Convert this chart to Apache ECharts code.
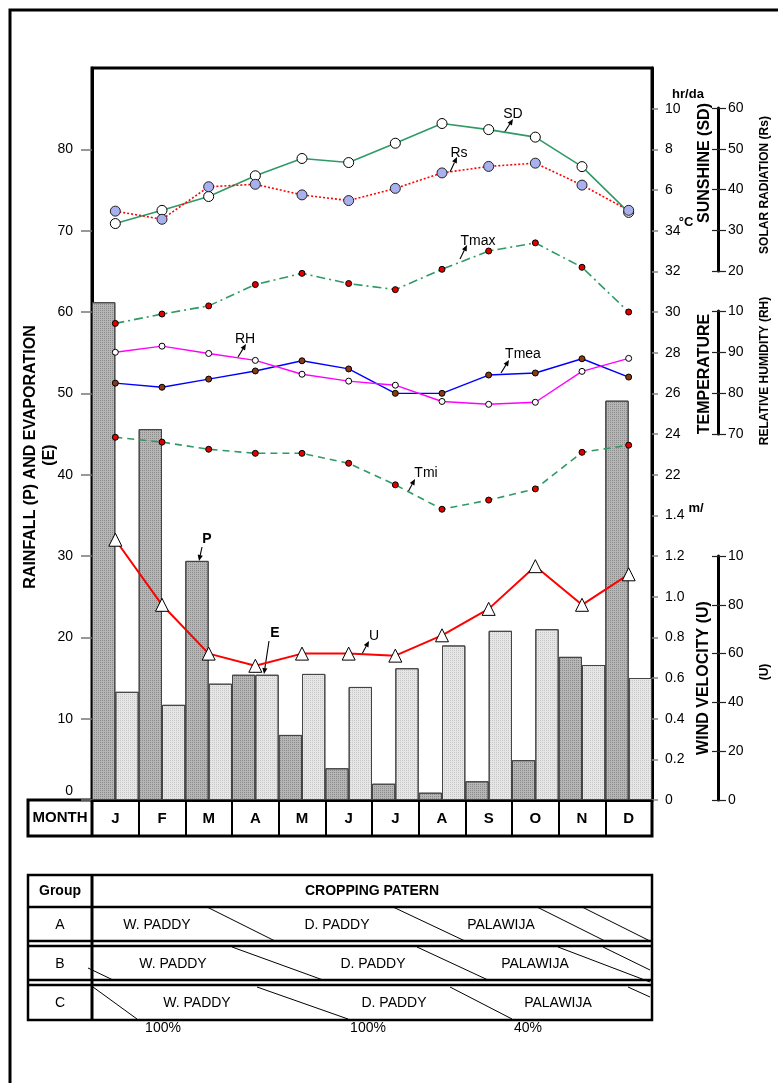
<!DOCTYPE html>
<html><head><meta charset="utf-8">
<script src="https://cdn.jsdelivr.net/npm/echarts@6/dist/echarts.min.js"></script>
<style>html,body{margin:0;padding:0;background:#fff}#c{width:778px;height:1083px}</style>
</head><body><div id="c"></div>
<script>
// ---------- DATA ----------
const months = ['J','F','M','A','M','J','J','A','S','O','N','D'];
const rainfallP = [61.2,45.6,29.4,15.4,8.0,3.9,2.0,0.9,2.3,4.9,17.6,49.1];
const evaporationE = [13.3,11.7,14.3,15.4,15.5,13.9,16.2,19.0,20.8,21.0,16.6,15.0];
const sunshineSD = [4.35,5.0,5.68,6.7,7.55,7.35,8.3,9.27,8.97,8.6,7.15,4.9];
const solarRs = [34.8,32.8,40.8,41.4,38.8,37.4,40.4,44.2,45.8,46.6,41.2,35.0];
const tMax = [29.44,29.9,30.3,31.35,31.9,31.4,31.1,32.1,33.0,33.4,32.2,30.0];
const tMean = [26.5,26.3,26.7,27.1,27.6,27.2,26.0,26.0,26.9,27.0,27.7,26.8];
const humidityRH = [90.1,91.6,89.8,88.1,84.7,83.0,82.0,78.0,77.3,77.8,85.4,88.6];
const tMin = [23.84,23.6,23.25,23.05,23.05,22.56,21.5,20.3,20.75,21.3,23.1,23.45];
const windU = [1.28,0.96,0.72,0.66,0.72,0.72,0.71,0.81,0.94,1.15,0.96,1.11];
const leftTicks = [0,10,20,30,40,50,60,70,80];
const rightTickValues = [0,5,10,15,20,25,30,35,40,45,50,55,60,65,70,75,80,85];
const rightTickLabels = ['0','0.2','0.4','0.6','0.8','1.0','1.2','1.4','22','24','26','28','30','32','34','6','8','10'];
const rsTicks = ['20','30','40','50','60'];
const rhTicks = ['70','80','90','10'];
const uTicks = ['0','20','40','60','80','10'];
const cropGroups = ['A','B','C'];
const cropNames = ['W. PADDY','D. PADDY','PALAWIJA'];
const cropPercents = ['100%','100%','40%'];

// ---------- CHART ----------
const FF = "'Liberation Sans', Arial, sans-serif";
const chart = echarts.init(document.getElementById('c'), null, {renderer:'canvas'});

function hiddenY(min,max){ return {type:'value', gridIndex:0, min:min, max:max, show:false}; }
function barAxes(g, min, max, interval, labels){
  return [
    {type:'value', gridIndex:g, position:'right', min:min, max:max, interval:interval,
     axisLine:{show:true, lineStyle:{color:'#000', width:3}},
     axisTick:{show:true, inside:false, length:8, lineStyle:{color:'#222', width:1.2}},
     axisLabel:{show:true, margin:9, color:'#000', fontFamily:FF, fontSize:14,
       formatter:(v)=>labels[Math.round((v-min)/interval)]},
     splitLine:{show:false}},
    {type:'value', gridIndex:g, position:'right', min:min, max:max, interval:interval,
     axisLine:{show:false},
     axisTick:{show:true, inside:true, length:7, lineStyle:{color:'#222', width:1.2}},
     axisLabel:{show:false}, splitLine:{show:false}}
  ];
}

function arrow(x1,y1,x2,y2){
  const a=Math.atan2(y2-y1,x2-x1), L=6, W=2.6;
  const bx=x2-L*Math.cos(a), by=y2-L*Math.sin(a);
  const px=-Math.sin(a)*W, py=Math.cos(a)*W;
  return [
    {type:'line', shape:{x1:x1,y1:y1,x2:bx,y2:by}, style:{stroke:'#000', lineWidth:1.1}},
    {type:'polygon', shape:{points:[[x2,y2],[bx+px,by+py],[bx-px,by-py]]}, style:{fill:'#000'}}
  ];
}
function txt(t,x,y,size,bold,opts,align){
  return Object.assign({type:'text', x:x, y:y, style:{text:t, x:0, y:0, fill:'#000',
    font:(bold?'bold ':'')+size+'px '+FF, textAlign:align||'center', textVerticalAlign:'middle'}}, opts||{});
}
function vtxt(t,x,y,size,bold){ return txt(t,x,y,size,bold,{rotation:Math.PI/2}); }
function ln(x1,y1,x2,y2,w){ return {type:'line', shape:{x1:x1,y1:y1,x2:x2,y2:y2}, style:{stroke:'#000', lineWidth:w||1}}; }

const g = [];
// outer frame
g.push({type:'rect', shape:{x:10,y:10,width:830,height:1130}, style:{fill:'none', stroke:'#000', lineWidth:3}});
// month row
g.push({type:'rect', shape:{x:28,y:800,width:624,height:36}, style:{fill:'none', stroke:'#000', lineWidth:3}});
g.push(ln(92,800,92,836,3));
g.push(txt('MONTH',60,818,15,true));
g.push(txt('0',73,791,14,false,null,'right'));
// axis titles
g.push(vtxt('RAINFALL (P) AND EVAPORATION',31,457,16,true));
g.push(vtxt('(E)',50,455,16,true));
g.push(vtxt('SUNSHINE (SD)',705,163,16,true));
g.push(vtxt('TEMPERATURE',705,374,16,true));
g.push(vtxt('WIND VELOCITY (U)',704,678,16,true));
g.push(vtxt('SOLAR RADIATION (Rs)',765,185,12,true));
g.push(vtxt('RELATIVE HUMIDITY (RH)',765,371,12,true));
g.push(vtxt('(U)',765,672,12,true));
g.push(txt('hr/da',688,94,13,true));
g.push(txt('\u00B0C',686,222,13,true));
g.push(txt('m/',696,508,13,true));
// annotations
g.push(txt('SD',513,114,14,false)); g.push(...arrow(504,133,513,119));
g.push(txt('Rs',459,153,14,false)); g.push(...arrow(450,172,457,157));
g.push(txt('Tmax',478,241,14,false)); g.push(...arrow(460,259,467,245));
g.push(txt('RH',245,339,14,false)); g.push(...arrow(238,357,246,344));
g.push(txt('Tmea',523,354,14,false)); g.push(...arrow(501,373,509,360));
g.push(txt('Tmi',426,473,14,false)); g.push(...arrow(408,492,415,479));
g.push(txt('U',374,636,14,false)); g.push(...arrow(362,654,369,641));
g.push(txt('P',207,539,14,true)); g.push(...arrow(202,547,199,561));
g.push(txt('E',275,633,14,true)); g.push(...arrow(269,641,264,674));
// cropping table
g.push({type:'rect', shape:{x:28,y:875,width:624,height:145}, style:{fill:'none', stroke:'#000', lineWidth:2.5}});
g.push(ln(28,907,652,907,2.5));
g.push(ln(28,941,652,941,2.5)); g.push(ln(28,946,652,946,2.5));
g.push(ln(28,980,652,980,2.5)); g.push(ln(28,985,652,985,2.5));
g.push(ln(92,875,92,1020,3));
g.push(txt('Group',60,891,14,true));
g.push(txt('CROPPING PATERN',372,891,14,true));
const rowY=[925,964,1003];
const namePos=[[157,337,501],[173,373,535],[197,394,558]];
cropGroups.forEach((c,i)=>{
  g.push(txt(c,60,rowY[i],14,false));
  cropNames.forEach((n,j)=>g.push(txt(n,namePos[i][j],rowY[i],14,false)));
});
[163,368,528].forEach((x,i)=>g.push(txt(cropPercents[i],x,1028,14,false)));
// diagonals
[[207,907,275,941],[393,907,465,941],[537,907,605,941],[582,907,650,941],
 [88,968,113,980],[232,947,323,980],[417,947,488,980],[558,947,650,982],[603,947,650,970],
 [93,987,137,1019],[257,987,348,1019],[450,987,512,1019],[628,987,650,997]
].forEach(d=>g.push(ln(d[0],d[1],d[2],d[3],1)));

function lineSeries(name,data,yi,color,type,width,symbol,size,fill,border){
  return {name:name, type:'line', data:data, yAxisIndex:yi, xAxisIndex:0, z:5,
    lineStyle:{color:color, type:type, width:width},
    symbol:symbol, symbolSize:size,
    itemStyle:{color:fill, borderColor:border||'#000', borderWidth:1},
    emphasis:{disabled:true}};
}

const option = {
  animation:false,
  backgroundColor:'#fff',
  textStyle:{fontFamily:FF},
  grid:[
    {left:92, top:68, width:560, height:732, show:true, borderColor:'#000', borderWidth:3, backgroundColor:'transparent'},
    {left:718, top:108, width:1, height:163},
    {left:718, top:311, width:1, height:123},
    {left:718, top:556, width:1, height:244}
  ],
  xAxis:[
    {type:'category', gridIndex:0, data:months, boundaryGap:true,
     axisLine:{show:true, lineStyle:{color:'#000', width:3}},
     axisTick:{show:true, interval:0, length:36, lineStyle:{color:'#000', width:2}},
     axisLabel:{interval:0, margin:11, color:'#000', fontWeight:'bold', fontSize:15, fontFamily:FF},
     splitLine:{show:false}},
    {type:'value', gridIndex:1, show:false},
    {type:'value', gridIndex:2, show:false},
    {type:'value', gridIndex:3, show:false}
  ],
  yAxis:[
    {type:'value', gridIndex:0, position:'left', min:0, max:90, interval:10,
     axisLine:{show:true, lineStyle:{color:'#000', width:3}},
     axisTick:{show:true, length:11, customValues:leftTicks, lineStyle:{color:'#777', width:1.5}},
     axisLabel:{margin:19, color:'#000', fontSize:14, fontFamily:FF, customValues:leftTicks.slice(1)},
     splitLine:{show:false}},
    {type:'value', gridIndex:0, position:'right', min:0, max:90, interval:5,
     axisLine:{show:true, lineStyle:{color:'#000', width:3}},
     axisTick:{show:true, length:6, customValues:rightTickValues, lineStyle:{color:'#888', width:1.5}},
     axisLabel:{margin:13, color:'#000', fontSize:14, fontFamily:FF, customValues:rightTickValues,
       formatter:(v)=>rightTickLabels[rightTickValues.indexOf(Math.round(v))]},
     splitLine:{show:false}},
    hiddenY(-24,12),    // 2 SD (hr/day)
    hiddenY(-110,70),   // 3 Rs
    hiddenY(6,42),      // 4 Temperature
    hiddenY(-20,160),   // 5 RH
    hiddenY(0,3.6),     // 6 U (m/s)
    ...barAxes(1,20,60,10,rsTicks),
    ...barAxes(2,70,100,10,rhTicks),
    ...barAxes(3,0,100,20,uTicks)
  ],
  series:[
    {name:'P', type:'bar', data:rainfallP, xAxisIndex:0, yAxisIndex:0, barGap:'0%', barCategoryGap:'0%', z:2,
     itemStyle:{color:'#b6b6b6', borderColor:'#444', borderWidth:1,
       decal:{symbol:'rect', symbolSize:1, dashArrayX:[1,1], dashArrayY:[1,1], color:'rgba(60,60,60,0.35)'}},
     emphasis:{disabled:true}},
    {name:'E', type:'bar', data:evaporationE, xAxisIndex:0, yAxisIndex:0, barGap:'0%', barCategoryGap:'0%', z:2,
     itemStyle:{color:'#e6e6e6', borderColor:'#444', borderWidth:1,
       decal:{symbol:'rect', symbolSize:1, dashArrayX:[1,1], dashArrayY:[1,1], color:'rgba(60,60,60,0.18)'}},
     emphasis:{disabled:true}},
    lineSeries('SD',sunshineSD,2,'#2f9a66','solid',1.6,'circle',10,'#fff'),
    lineSeries('Rs',solarRs,3,'#ff0000',[2,2],1.6,'circle',10,'#a9b0ee','#222'),
    lineSeries('Tmax',tMax,4,'#2f9a66',[9,4,2,4],1.6,'circle',6,'#e00000'),
    lineSeries('Tmea',tMean,4,'#0000ff','solid',1.4,'circle',6,'#8a3a10'),
    lineSeries('RH',humidityRH,5,'#ff00ff','solid',1.4,'circle',6,'#fff'),
    lineSeries('Tmi',tMin,4,'#2f9a66',[7,5],1.6,'circle',6,'#e00000'),
    lineSeries('U',windU,6,'#ff0000','solid',2,'triangle',13,'#fff')
  ],
  graphic:{elements:g}
};
chart.setOption(option);
</script></body></html>
